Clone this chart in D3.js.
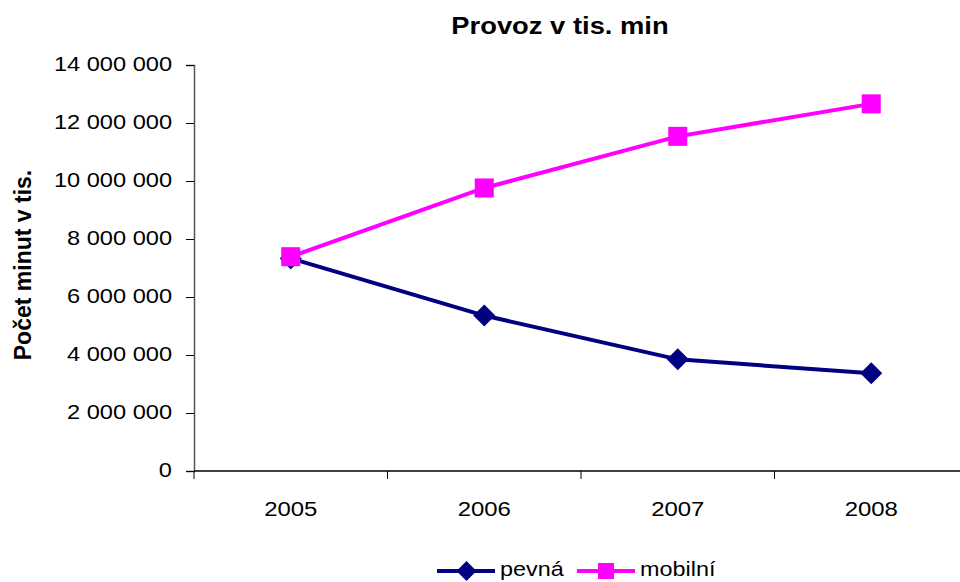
<!DOCTYPE html>
<html><head><meta charset="utf-8">
<script src="https://cdn.jsdelivr.net/npm/d3@7"></script>
<style>body{margin:0;background:#fff}svg{display:block;font-family:"Liberation Sans",Arial,sans-serif}</style>
</head><body><svg id="c" width="960" height="582"></svg>
<script>
const years = ["2005","2006","2007","2008"];
const pevna = [7330000, 5360000, 3850000, 3370000];
const mobilni = [7390000, 9760000, 11540000, 12660000];
const yTicks = [0,2000000,4000000,6000000,8000000,10000000,12000000,14000000];

const svg = d3.select("#c");
const x = d3.scaleBand().domain(years).range([194, 968]);
const y = d3.scaleLinear().domain([0, 14000000]).range([471, 65]);
const fmt = v => d3.format(",")(v).replace(/,/g, " ");
const FF = "Liberation Sans, Arial, sans-serif";

// y axis
const ya = svg.append("g").attr("transform","translate(194,0)")
  .call(d3.axisLeft(y).tickValues(yTicks).tickFormat(fmt).tickSize(8).tickPadding(14));
ya.select(".domain").attr("stroke","#555").attr("stroke-width",1.5);
ya.selectAll(".tick line").attr("stroke","#000");
ya.selectAll("text").attr("font-size",20).attr("fill","#000").attr("font-family",FF)
  .attr("x",0).attr("dy","5px").attr("transform","translate(-22,0) scale(1.18,1)");

// x axis
const xa = svg.append("g").attr("transform","translate(0,471)")
  .call(d3.axisBottom(x).tickSize(0).tickPadding(0));
xa.select(".domain").remove();
xa.selectAll("text").attr("font-size",21).attr("fill","#000").attr("font-family",FF)
  .attr("y",0).attr("dy",0).attr("transform","translate(0,45) scale(1.14,1)");
svg.append("line").attr("x1",194).attr("x2",960).attr("y1",471).attr("y2",471).attr("stroke","#000").attr("stroke-width",1.5);
const bounds = years.map(d => x(d)).concat([x.range()[1]]);
svg.selectAll(".xt").data(bounds).enter().append("line")
  .attr("x1",d=>d).attr("x2",d=>d).attr("y1",471).attr("y2",479).attr("stroke","#000");

const cx = d => x(d) + x.bandwidth()/2;
const line = d3.line().x((d,i)=>cx(years[i])).y(d=>y(d));

// pevná
svg.append("path").datum(pevna).attr("d",line).attr("fill","none").attr("stroke","#000080").attr("stroke-width",4);
svg.selectAll(".dp").data(pevna).enter().append("path")
  .attr("d",d3.symbol(d3.symbolSquare, 242)())
  .attr("transform",(d,i)=>`translate(${cx(years[i])},${y(d)}) rotate(45)`)
  .attr("fill","#000080");

// mobilní
svg.append("path").datum(mobilni).attr("d",line).attr("fill","none").attr("stroke","#ff00ff").attr("stroke-width",4);
svg.selectAll(".mp").data(mobilni).enter().append("rect")
  .attr("x",(d,i)=>cx(years[i])-9.5).attr("y",d=>y(d)-9.5).attr("width",19).attr("height",19)
  .attr("fill","#ff00ff");

// title
svg.append("text").attr("transform","translate(560,34) scale(1.19,1)").attr("text-anchor","middle")
  .attr("font-size",23).attr("font-weight","bold").text("Provoz v tis. min");
// y title
svg.append("text").attr("transform","translate(31,265) rotate(-90)").attr("text-anchor","middle")
  .attr("font-size",23).attr("font-weight","bold").text("Počet minut v tis.");

// legend
const lg = [{n:"pevná",c:"#000080",s:"d",x:437},{n:"mobilní",c:"#ff00ff",s:"s",x:577}];
lg.forEach(l=>{
  const g = svg.append("g");
  g.append("line").attr("x1",l.x).attr("x2",l.x+58).attr("y1",571).attr("y2",571).attr("stroke",l.c).attr("stroke-width",4);
  if(l.s==="d") g.append("path").attr("d",d3.symbol(d3.symbolSquare,200)()).attr("transform",`translate(${l.x+29.5},571) rotate(45)`).attr("fill",l.c);
  else g.append("rect").attr("x",l.x+21).attr("y",563).attr("width",16).attr("height",16).attr("fill",l.c);
  g.append("text").attr("transform",`translate(${l.x+63},576) scale(1.17,1)`).attr("font-size",20).attr("font-family",FF).text(l.n);
});
</script></body></html>
